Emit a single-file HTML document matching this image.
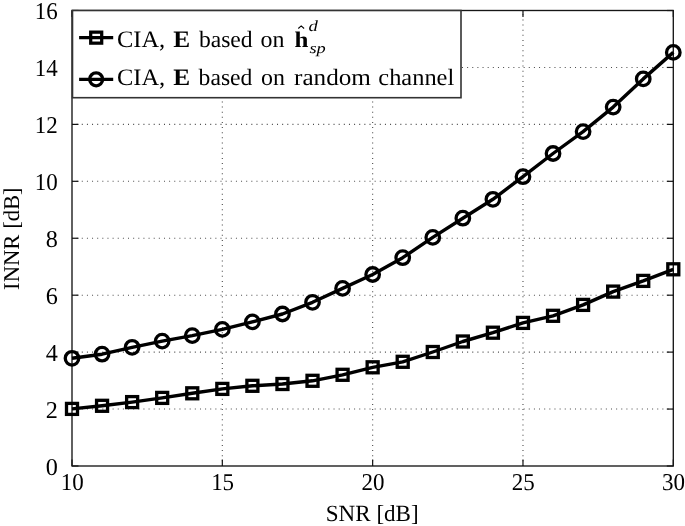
<!DOCTYPE html><html><head><meta charset="utf-8"><style>html,body{margin:0;padding:0;background:#fff;overflow:hidden}svg{display:block;filter:grayscale(1)}text{font-family:"Liberation Serif",serif;fill:#000;text-rendering:geometricPrecision}</style></head><body>
<svg width="685" height="526" viewBox="0 0 685 526">
<rect width="685" height="526" fill="#fff"/>
<g stroke="#4a4a4a" stroke-width="1.1" stroke-dashoffset="0.5" fill="none"><line x1="72.0" y1="409.06" x2="673.3" y2="409.06" stroke-dasharray="1 4.138"/><line x1="72.0" y1="352.12" x2="673.3" y2="352.12" stroke-dasharray="1 4.138"/><line x1="72.0" y1="295.19" x2="673.3" y2="295.19" stroke-dasharray="1 4.138"/><line x1="72.0" y1="238.25" x2="673.3" y2="238.25" stroke-dasharray="1 4.138"/><line x1="72.0" y1="181.31" x2="673.3" y2="181.31" stroke-dasharray="1 4.138"/><line x1="72.0" y1="124.38" x2="673.3" y2="124.38" stroke-dasharray="1 4.138"/><line x1="72.0" y1="67.44" x2="673.3" y2="67.44" stroke-dasharray="1 4.138"/><line x1="222.32" y1="466.0" x2="222.32" y2="10.5" stroke-dasharray="1 4.127"/><line x1="372.65" y1="466.0" x2="372.65" y2="10.5" stroke-dasharray="1 4.127"/><line x1="522.98" y1="466.0" x2="522.98" y2="10.5" stroke-dasharray="1 4.127"/></g>
<g stroke="#111" stroke-width="1.2"><line x1="72.0" y1="466.00" x2="78.5" y2="466.00"/><line x1="673.3" y1="466.00" x2="666.8" y2="466.00"/><line x1="72.0" y1="409.06" x2="78.5" y2="409.06"/><line x1="673.3" y1="409.06" x2="666.8" y2="409.06"/><line x1="72.0" y1="352.12" x2="78.5" y2="352.12"/><line x1="673.3" y1="352.12" x2="666.8" y2="352.12"/><line x1="72.0" y1="295.19" x2="78.5" y2="295.19"/><line x1="673.3" y1="295.19" x2="666.8" y2="295.19"/><line x1="72.0" y1="238.25" x2="78.5" y2="238.25"/><line x1="673.3" y1="238.25" x2="666.8" y2="238.25"/><line x1="72.0" y1="181.31" x2="78.5" y2="181.31"/><line x1="673.3" y1="181.31" x2="666.8" y2="181.31"/><line x1="72.0" y1="124.38" x2="78.5" y2="124.38"/><line x1="673.3" y1="124.38" x2="666.8" y2="124.38"/><line x1="72.0" y1="67.44" x2="78.5" y2="67.44"/><line x1="673.3" y1="67.44" x2="666.8" y2="67.44"/><line x1="72.0" y1="10.50" x2="78.5" y2="10.50"/><line x1="673.3" y1="10.50" x2="666.8" y2="10.50"/><line x1="72.00" y1="466.0" x2="72.00" y2="459.5"/><line x1="72.00" y1="10.5" x2="72.00" y2="17.0"/><line x1="222.32" y1="466.0" x2="222.32" y2="459.5"/><line x1="222.32" y1="10.5" x2="222.32" y2="17.0"/><line x1="372.65" y1="466.0" x2="372.65" y2="459.5"/><line x1="372.65" y1="10.5" x2="372.65" y2="17.0"/><line x1="522.98" y1="466.0" x2="522.98" y2="459.5"/><line x1="522.98" y1="10.5" x2="522.98" y2="17.0"/><line x1="673.30" y1="466.0" x2="673.30" y2="459.5"/><line x1="673.30" y1="10.5" x2="673.30" y2="17.0"/></g>
<rect x="72.0" y="10.5" width="601.30" height="455.50" fill="none" stroke="#161616" stroke-width="1.35"/>
<polyline points="72.00,358.30 102.06,354.20 132.13,347.30 162.19,341.10 192.26,335.60 222.32,329.40 252.39,321.90 282.45,314.00 312.52,302.30 342.58,288.40 372.65,274.50 402.71,257.70 432.78,237.40 462.84,218.20 492.91,199.30 522.98,176.70 553.04,153.50 583.10,131.60 613.17,107.10 643.23,78.90 673.30,52.40" fill="none" stroke="#000" stroke-width="3.4" stroke-linejoin="round"/>
<polyline points="72.00,408.90 102.06,405.80 132.13,402.10 162.19,397.90 192.26,393.30 222.32,388.90 252.39,385.80 282.45,384.00 312.52,380.80 342.58,374.80 372.65,367.30 402.71,361.80 432.78,352.00 462.84,341.50 492.91,332.70 522.98,322.90 553.04,315.80 583.10,304.90 613.17,291.60 643.23,280.90 673.30,269.30" fill="none" stroke="#000" stroke-width="3.4" stroke-linejoin="round"/>
<g fill="none" stroke="#000" stroke-width="3.3"><circle cx="72.00" cy="358.30" r="6.75"/><circle cx="102.06" cy="354.20" r="6.75"/><circle cx="132.13" cy="347.30" r="6.75"/><circle cx="162.19" cy="341.10" r="6.75"/><circle cx="192.26" cy="335.60" r="6.75"/><circle cx="222.32" cy="329.40" r="6.75"/><circle cx="252.39" cy="321.90" r="6.75"/><circle cx="282.45" cy="314.00" r="6.75"/><circle cx="312.52" cy="302.30" r="6.75"/><circle cx="342.58" cy="288.40" r="6.75"/><circle cx="372.65" cy="274.50" r="6.75"/><circle cx="402.71" cy="257.70" r="6.75"/><circle cx="432.78" cy="237.40" r="6.75"/><circle cx="462.84" cy="218.20" r="6.75"/><circle cx="492.91" cy="199.30" r="6.75"/><circle cx="522.98" cy="176.70" r="6.75"/><circle cx="553.04" cy="153.50" r="6.75"/><circle cx="583.10" cy="131.60" r="6.75"/><circle cx="613.17" cy="107.10" r="6.75"/><circle cx="643.23" cy="78.90" r="6.75"/><circle cx="673.30" cy="52.40" r="6.75"/><rect x="66.50" y="403.40" width="11.0" height="11.0"/><rect x="96.56" y="400.30" width="11.0" height="11.0"/><rect x="126.63" y="396.60" width="11.0" height="11.0"/><rect x="156.69" y="392.40" width="11.0" height="11.0"/><rect x="186.76" y="387.80" width="11.0" height="11.0"/><rect x="216.82" y="383.40" width="11.0" height="11.0"/><rect x="246.89" y="380.30" width="11.0" height="11.0"/><rect x="276.95" y="378.50" width="11.0" height="11.0"/><rect x="307.02" y="375.30" width="11.0" height="11.0"/><rect x="337.08" y="369.30" width="11.0" height="11.0"/><rect x="367.15" y="361.80" width="11.0" height="11.0"/><rect x="397.21" y="356.30" width="11.0" height="11.0"/><rect x="427.28" y="346.50" width="11.0" height="11.0"/><rect x="457.34" y="336.00" width="11.0" height="11.0"/><rect x="487.41" y="327.20" width="11.0" height="11.0"/><rect x="517.48" y="317.40" width="11.0" height="11.0"/><rect x="547.54" y="310.30" width="11.0" height="11.0"/><rect x="577.60" y="299.40" width="11.0" height="11.0"/><rect x="607.67" y="286.10" width="11.0" height="11.0"/><rect x="637.73" y="275.40" width="11.0" height="11.0"/><rect x="667.80" y="263.80" width="11.0" height="11.0"/></g>
<g font-size="24.2"><text x="57.8" y="474.50" text-anchor="end">0</text><text x="57.8" y="417.56" text-anchor="end">2</text><text x="57.8" y="360.62" text-anchor="end">4</text><text x="57.8" y="303.69" text-anchor="end">6</text><text x="57.8" y="246.75" text-anchor="end">8</text><text x="57.8" y="189.81" text-anchor="end" textLength="22.99" lengthAdjust="spacingAndGlyphs">10</text><text x="57.8" y="132.88" text-anchor="end" textLength="22.99" lengthAdjust="spacingAndGlyphs">12</text><text x="57.8" y="75.94" text-anchor="end" textLength="22.99" lengthAdjust="spacingAndGlyphs">14</text><text x="57.8" y="19.00" text-anchor="end" textLength="22.99" lengthAdjust="spacingAndGlyphs">16</text><text x="72.30" y="490.2" text-anchor="middle" textLength="22.99" lengthAdjust="spacingAndGlyphs">10</text><text x="222.62" y="490.2" text-anchor="middle" textLength="22.99" lengthAdjust="spacingAndGlyphs">15</text><text x="372.95" y="490.2" text-anchor="middle" textLength="22.99" lengthAdjust="spacingAndGlyphs">20</text><text x="523.27" y="490.2" text-anchor="middle" textLength="22.99" lengthAdjust="spacingAndGlyphs">25</text><text x="673.60" y="490.2" text-anchor="middle" textLength="22.99" lengthAdjust="spacingAndGlyphs">30</text></g>
<text x="325.79" y="521.1" font-size="23.2" textLength="92.92" lengthAdjust="spacingAndGlyphs">SNR [dB]</text>
<g transform="translate(18.9,289.0) rotate(-90)"><text x="-0.91" y="0" font-size="22.6" textLength="102.56" lengthAdjust="spacingAndGlyphs">INNR [dB]</text></g>
<rect x="72.5" y="10.5" width="388.5" height="87.2" fill="#fff" stroke="#333" stroke-width="1.6"/>
<g stroke="#000" stroke-width="3.2" fill="none"><line x1="79.1" y1="37.65" x2="113.2" y2="37.65"/><line x1="79.1" y1="79.35" x2="113.2" y2="79.35"/><rect x="90.7" y="32.15" width="11" height="11" stroke-width="3.25"/><circle cx="96.15" cy="79.35" r="6.5" stroke-width="3.3"/></g>
<text x="117.02" y="47.0" font-size="23.6" textLength="48.20" lengthAdjust="spacingAndGlyphs">CIA,</text><text x="173.19" y="47.0" font-size="23.6" textLength="16.90" lengthAdjust="spacingAndGlyphs" font-weight="bold">E</text><text x="198.90" y="47.0" font-size="23.6" textLength="53.76" lengthAdjust="spacingAndGlyphs">based</text><text x="260.54" y="47.0" font-size="23.6" textLength="23.94" lengthAdjust="spacingAndGlyphs">on</text><text x="117.02" y="85.0" font-size="23.6" textLength="48.20" lengthAdjust="spacingAndGlyphs">CIA,</text><text x="173.19" y="85.0" font-size="23.6" textLength="16.90" lengthAdjust="spacingAndGlyphs" font-weight="bold">E</text><text x="198.60" y="85.0" font-size="23.6" textLength="53.86" lengthAdjust="spacingAndGlyphs">based</text><text x="260.94" y="85.0" font-size="23.6" textLength="23.94" lengthAdjust="spacingAndGlyphs">on</text><text x="294.00" y="85.0" font-size="23.6" textLength="76.97" lengthAdjust="spacingAndGlyphs">random</text><text x="378.32" y="85.0" font-size="23.6" textLength="75.95" lengthAdjust="spacingAndGlyphs">channel</text><text x="294.50" y="46.9" font-size="22.3" textLength="13.91" lengthAdjust="spacingAndGlyphs" font-weight="bold">h</text><path d="M298.3 28.5 L301.2 25.9 L304.1 28.5" fill="none" stroke="#000" stroke-width="1.1"/><text x="308.64" y="30.8" font-size="15.6" textLength="9.36" lengthAdjust="spacingAndGlyphs" font-style="italic">d</text><text x="309.42" y="52.6" font-size="14.8" textLength="16.32" lengthAdjust="spacingAndGlyphs" font-style="italic">sp</text>
</svg></body></html>
